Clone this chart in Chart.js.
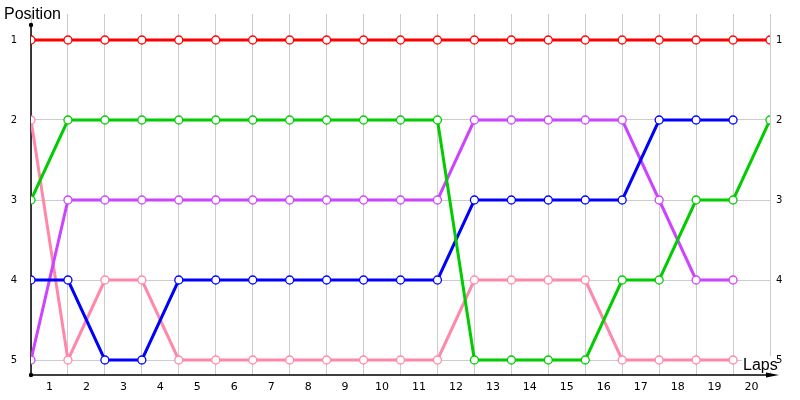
<!DOCTYPE html>
<html>
<head>
<meta charset="utf-8">
<script src="https://cdn.jsdelivr.net/npm/chart.js@4"></script>
<style>
  html, body { margin: 0; padding: 0; background: #fff; }
  #wrap { width: 800px; height: 400px; position: relative; }
</style>
</head>
<body>
<div id="wrap"><canvas id="race"></canvas></div>
<script>
// lap labels shown under the axis (between grid lines)
let lapLabels = ["1", "2", "3", "4", "5", "6", "7", "8", "9", "10",
  "11", "12", "13", "14", "15", "16", "17", "18", "19", "20"];
let positions = [1, 2, 3, 4, 5];

// position of each driver at every grid line (start + 20 laps)
let red    = [1, 1, 1, 1, 1, 1, 1, 1, 1, 1, 1, 1, 1, 1, 1, 1, 1, 1, 1, 1, 1];
let green  = [3, 2, 2, 2, 2, 2, 2, 2, 2, 2, 2, 2, 5, 5, 5, 5, 4, 4, 3, 3, 2];
let blue   = [4, 4, 5, 5, 4, 4, 4, 4, 4, 4, 4, 4, 3, 3, 3, 3, 3, 2, 2, 2];
let purple = [5, 3, 3, 3, 3, 3, 3, 3, 3, 3, 3, 3, 2, 2, 2, 2, 2, 3, 4, 4];
let pink   = [2, 5, 4, 4, 5, 5, 5, 5, 5, 5, 5, 5, 4, 4, 4, 4, 5, 5, 5, 5];

const font = "'DejaVu Sans', Verdana, sans-serif";
const titleFont = "'Liberation Sans', Arial, sans-serif";

function makeSet(values, color) {
  return {
    data: values.map((v, i) => ({ x: i, y: v })),
    borderColor: color,
    backgroundColor: "#fff",
    borderWidth: 3,
    pointRadius: 4,
    pointHoverRadius: 4,
    pointBorderWidth: 1.3,
    pointBackgroundColor: "#fff",
    pointBorderColor: color,
    tension: 0,
    fill: false
  };
}

const axisDecor = {
  id: "axisDecor",
  beforeDatasetsDraw(chart) {
    const ctx = chart.ctx;
    const a = chart.chartArea;
    ctx.save();
    ctx.strokeStyle = "#000";
    ctx.fillStyle = "#000";
    ctx.lineWidth = 1.5;
    ctx.beginPath();
    ctx.moveTo(a.left, 25);
    ctx.lineTo(a.left, a.bottom);
    ctx.lineTo(a.right + 2, a.bottom);
    ctx.stroke();
    // arrow head
    ctx.beginPath();
    ctx.moveTo(a.right - 4, a.bottom - 2.5);
    ctx.lineTo(a.right + 9, a.bottom);
    ctx.lineTo(a.right - 4, a.bottom + 2.5);
    ctx.closePath();
    ctx.fill();
    ctx.beginPath();
    ctx.arc(a.left, 25, 2.2, 0, Math.PI * 2);
    ctx.fill();
    ctx.beginPath();
    ctx.arc(a.left, a.bottom, 2.2, 0, Math.PI * 2);
    ctx.fill();
    ctx.restore();
  },
  afterDraw(chart) {
    const ctx = chart.ctx;
    ctx.save();
    ctx.font = "16px " + titleFont;
    ctx.textBaseline = "middle";
    ctx.fillStyle = "#fff";
    ctx.fillRect(742, 356, 34, 16);
    ctx.fillStyle = "#000";
    ctx.textAlign = "left";
    ctx.fillText("Position", 4, 15);
    ctx.fillText("Laps", 743, 366);
    ctx.restore();
  }
};

const yTicks = scale => { scale.ticks = positions.map(v => ({ value: v })); };
const fitY = w => s => { s.width = w; s.paddingTop = 0; s.paddingBottom = 0; };

new Chart(document.getElementById("race"), {
  type: "line",
  data: {
    datasets: [
      makeSet(red, "#ff0000"),
      makeSet(green, "#00cc00"),
      makeSet(blue, "#0000ff"),
      makeSet(purple, "#cc44ff"),
      makeSet(pink, "#ff88aa")
    ]
  },
  options: {
    responsive: true,
    maintainAspectRatio: false,
    animation: false,
    layout: { padding: { top: 14, left: 0, right: 0, bottom: 0 } },
    plugins: { legend: { display: false }, tooltip: { enabled: false } },
    scales: {
      x: {
        type: "linear",
        position: "bottom",
        min: 0,
        max: 20,
        grid: { color: "#cccccc", lineWidth: 1, drawTicks: false },
        border: { display: false },
        ticks: { display: false, stepSize: 1 },
        afterFit(s) { s.height = 0; }
      },
      xl: {
        type: "linear",
        position: "bottom",
        min: 0,
        max: 20,
        grid: { display: false, drawTicks: false },
        border: { display: false },
        afterBuildTicks(s) { s.ticks = lapLabels.map((l, i) => ({ value: i + 0.5 })); },
        ticks: {
          autoSkip: false,
          maxRotation: 0,
          padding: 6,
          color: "#000",
          font: { family: font, size: 11 },
          callback: v => lapLabels[Math.round(v - 0.5)]
        },
        afterFit(s) { s.height = 25; s.paddingLeft = 0; s.paddingRight = 0; }
      },
      y: {
        type: "linear",
        position: "left",
        reverse: true,
        min: 0.675,
        max: 5.1875,
        grid: { color: "#cccccc", lineWidth: 1, drawTicks: false },
        border: { display: false },
        afterBuildTicks: yTicks,
        ticks: {
          padding: 14,
          color: "#000",
          font: { family: font, size: 10 },
          callback: v => String(v)
        },
        afterFit: fitY(31)
      },
      yr: {
        type: "linear",
        position: "right",
        reverse: true,
        min: 0.675,
        max: 5.1875,
        grid: { display: false, drawTicks: false },
        border: { display: false },
        afterBuildTicks: yTicks,
        ticks: {
          padding: 6,
          color: "#000",
          font: { family: font, size: 10 },
          callback: v => String(v)
        },
        afterFit: fitY(30)
      }
    }
  },
  plugins: [axisDecor]
});
</script>
</body>
</html>
